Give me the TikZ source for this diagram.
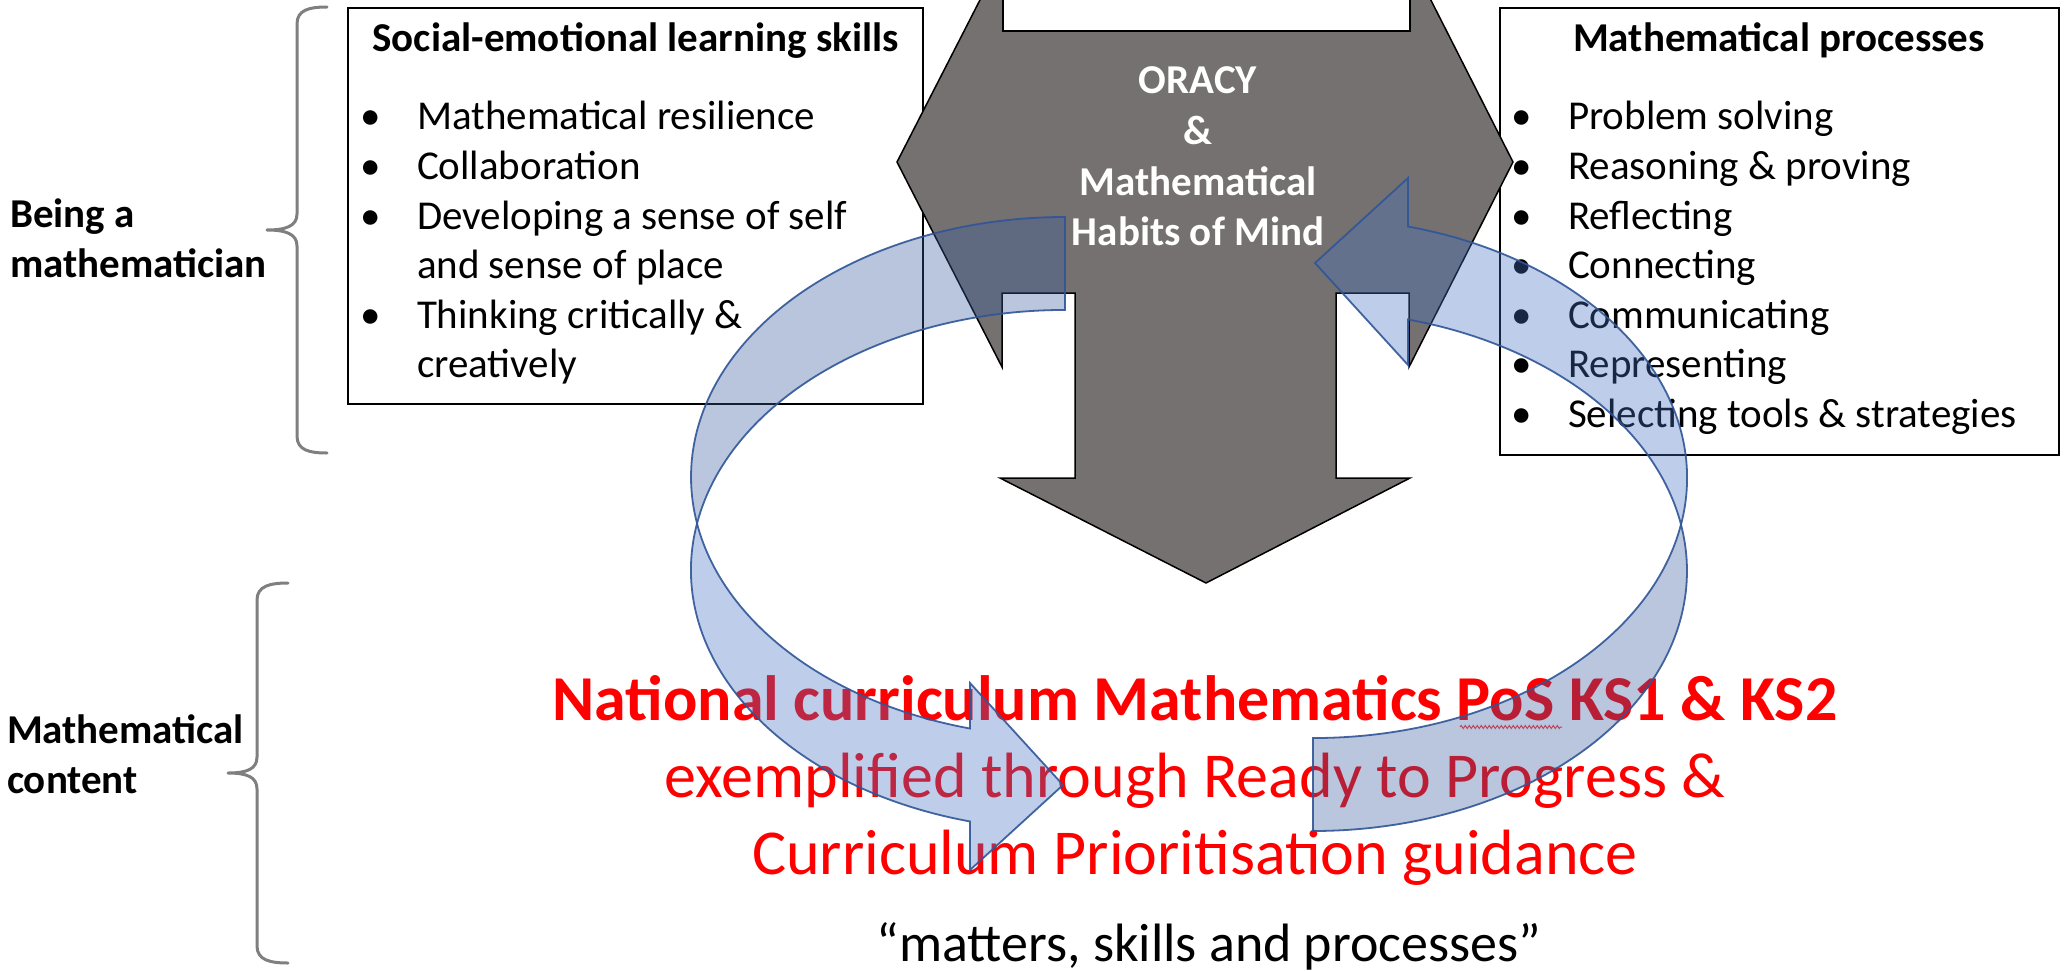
\documentclass[tikz,border=0pt]{standalone}
\usepackage{fontspec}
\setmainfont{Carlito}
\usetikzlibrary{decorations.pathmorphing}
\definecolor{arrowgray}{RGB}{118,113,113}
\definecolor{bandblue}{RGB}{68,114,196}
\definecolor{bandback}{RGB}{54,91,157}
\definecolor{bandline}{RGB}{47,85,151}
\definecolor{bracegray}{RGB}{127,127,127}
\begin{document}
\begin{tikzpicture}[x=1pt,y=-1pt,
  body/.style={font=\fontsize{41}{49}\selectfont, inner sep=0pt, outer sep=0pt, anchor=base west, text=black},
  bulletmark/.style={font=\fontsize{41}{49}\selectfont, inner sep=0pt, outer sep=0pt, anchor=base, text=black},
  boxtitle/.style={font=\fontsize{41}{49}\selectfont\bfseries, inner sep=0pt, outer sep=0pt, anchor=base},
  sidelabel/.style={font=\fontsize{41}{49}\selectfont\bfseries, inner sep=0pt, outer sep=0pt, anchor=base west},
  oracy/.style={font=\fontsize{41}{49}\selectfont\bfseries, inner sep=0pt, outer sep=0pt, anchor=base, text=white},
  redbold/.style={font=\fontsize{64}{77}\selectfont\bfseries, inner sep=0pt, outer sep=0pt, anchor=base, text=red},
  redreg/.style={font=\fontsize{64}{77}\selectfont, inner sep=0pt, outer sep=0pt, anchor=base, text=red},
  quoteline/.style={font=\fontsize{54}{65}\selectfont, inner sep=0pt, outer sep=0pt, anchor=base, text=black},
  listbox/.style={draw=black, line width=1.5pt, fill=white, inner sep=0pt, outer sep=0pt, anchor=north west},
  bracepath/.style={draw=bracegray, line width=3pt, line cap=round, line join=round},
  grayarrow/.style={fill=arrowgray, draw=black, line width=1.5pt, line join=miter},
  bandfront/.style={fill=bandblue, fill opacity=0.35, draw=bandline, draw opacity=0.9, line width=1.8pt, line join=miter},
  bandrear/.style={fill=bandback, fill opacity=0.35, draw=bandline, draw opacity=0.9, line width=1.8pt, line join=miter},
]
\path[use as bounding box] (0,0) rectangle (2066,971);
\clip (0,0) rectangle (2066,971);

% boxes
\node[listbox, minimum width=575pt, minimum height=396pt] (leftbox) at (348,8) {};
\node[listbox, minimum width=559pt, minimum height=447pt] (rightbox) at (1500,8) {};

% central grey arrow
\draw[grayarrow] (1002,-43) -- (897,162) -- (1002,367) -- (1002,293) -- (1075,293) -- (1075,478)
  -- (1000,478) -- (1206,583) -- (1410,478) -- (1336,478) -- (1336,293) -- (1409,293)
  -- (1409,367) -- (1513,162) -- (1409,-43) -- cycle;
\node[draw=black, line width=1.5pt, fill=white, inner sep=0pt, minimum width=407pt, minimum height=40pt, anchor=south west] (topbox) at (1002,32) {};

\node[oracy] (oracy1) at (1198,94) {ORACY};
\node[oracy] (oracy2) at (1198,145) {\&};
\node[oracy] (oracy3) at (1198,195) {Mathematical};
\node[oracy] (oracy4) at (1198,245) {Habits of Mind};

% left box text
\node[boxtitle] (lt) at (635.5,52) {Social-emotional learning skills};
\node[bulletmark] (lb1) at (371,130) {•};
\node[body] (li1) at (417,130) {Mathematical resilience};
\node[bulletmark] (lb2) at (371,179.5) {•};
\node[body] (li2) at (417,179.5) {Collaboration};
\node[bulletmark] (lb3) at (371,229) {•};
\node[body] (li3) at (417,229) {Developing a sense of self};
\node[body] (li3b) at (417,278.5) {and sense of place};
\node[bulletmark] (lb4) at (371,328) {•};
\node[body] (li4) at (417,328) {Thinking critically \&};
\node[body] (li4b) at (417,377.5) {creatively};

% right box text
\node[boxtitle] (rt) at (1779,52) {Mathematical processes};
\node[bulletmark] (rb1) at (1522,130) {•};
\node[body] (ri1) at (1568,130) {Problem solving};
\node[bulletmark] (rb2) at (1522,179.5) {•};
\node[body] (ri2) at (1568,179.5) {Reasoning \& proving};
\node[bulletmark] (rb3) at (1522,229) {•};
\node[body] (ri3) at (1568,229) {Reflecting};
\node[bulletmark] (rb4) at (1522,278.5) {•};
\node[body] (ri4) at (1568,278.5) {Connecting};
\node[bulletmark] (rb5) at (1522,328) {•};
\node[body] (ri5) at (1568,328) {Communicating};
\node[bulletmark] (rb6) at (1522,377.5) {•};
\node[body] (ri6) at (1568,377.5) {Representing};
\node[bulletmark] (rb7) at (1522,427) {•};
\node[body] (ri7) at (1568,427) {Selecting tools \& strategies};

% side labels and braces
\node[sidelabel] (being1) at (10,227) {Being a};
\node[sidelabel] (being2) at (10,277) {mathematician};
\node[sidelabel] (content1) at (7,743) {Mathematical};
\node[sidelabel] (content2) at (7,793) {content};

\draw[bracepath] (327,7) .. controls (309,7) and (297,10) .. (297,24) -- (297,214)
  .. controls (297,226) and (286,230) .. (267,230)
  .. controls (286,230) and (297,234) .. (297,246) -- (297,436)
  .. controls (297,450) and (309,453) .. (327,453);
\draw[bracepath] (288,583) .. controls (270,583) and (257,586) .. (257,600) -- (257,757)
  .. controls (257,769) and (247,773) .. (228,773)
  .. controls (247,773) and (257,777) .. (257,789) -- (257,946)
  .. controls (257,960) and (270,963) .. (288,963);

% red curriculum text
\node[redbold] (nc1) at (1195,720) {National curriculum Mathematics PoS KS1 \& KS2};
\node[redreg] (nc2) at (1195,797) {exemplified through Ready to Progress \&};
\node[redreg] (nc3) at (1195,874) {Curriculum Prioritisation guidance};
\node[quoteline] (msp) at (1209,961) {“matters, skills and processes”};
\draw[red!75!white, line width=1pt, decorate, decoration={snake, amplitude=1.5pt, segment length=4pt}] (1460,727) -- (1562,727);

% left curved arrow
\path[bandrear] (1065,217) arc[start angle=270, end angle=169.70, x radius=374, y radius=260]
  arc[start angle=190.30, end angle=270, x radius=374, y radius=260] -- cycle;
\path[bandfront] (697,523.5) arc[start angle=190.30, end angle=104.71, x radius=374, y radius=260]
  -- (970,870) -- (1063,785) -- (970,683) -- (970,728.5)
  arc[start angle=104.71, end angle=169.70, x radius=374, y radius=260] -- cycle;

% right curved arrow (same shape turned half round)
\begin{scope}[rotate around={180:(1189,524)}]
\path[bandrear] (1065,217) arc[start angle=270, end angle=169.70, x radius=374, y radius=260]
  arc[start angle=190.30, end angle=270, x radius=374, y radius=260] -- cycle;
\path[bandfront] (697,523.5) arc[start angle=190.30, end angle=104.71, x radius=374, y radius=260]
  -- (970,870) -- (1063,785) -- (970,683) -- (970,728.5)
  arc[start angle=104.71, end angle=169.70, x radius=374, y radius=260] -- cycle;
\end{scope}
\end{tikzpicture}
\end{document}
